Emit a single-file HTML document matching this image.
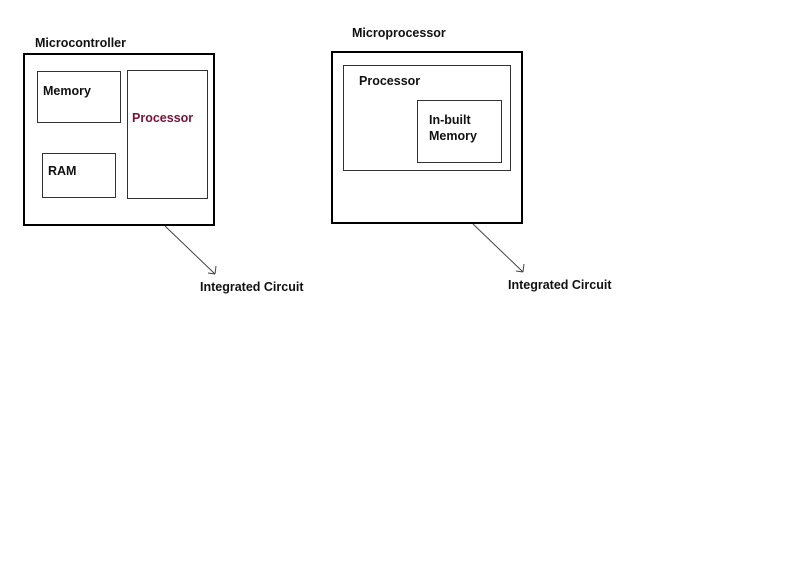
<!DOCTYPE html>
<html><head><meta charset="utf-8"><style>
html,body{margin:0;padding:0;background:#fff;}
svg{display:block;}
text{font-family:"Liberation Sans",Arial,sans-serif;font-weight:bold;font-size:12.5px;fill:#111;}
</style></head><body>
<svg width="800" height="561" viewBox="0 0 800 561" xmlns="http://www.w3.org/2000/svg">
<rect x="0" y="0" width="800" height="561" fill="#fff"/>
<!-- Left -->
<text x="35" y="47">Microcontroller</text>
<rect x="24" y="54" width="190" height="171" fill="none" stroke="#000" stroke-width="2"/>
<rect x="37.5" y="71.5" width="83" height="51" fill="none" stroke="#333" stroke-width="1"/>
<text x="43" y="95">Memory</text>
<rect x="42.5" y="153.5" width="73" height="44" fill="none" stroke="#333" stroke-width="1"/>
<text x="48" y="175">RAM</text>
<rect x="127.5" y="70.5" width="80" height="128" fill="none" stroke="#333" stroke-width="1"/>
<text x="132" y="122" style="fill:#7a1238">Processor</text>
<line x1="165" y1="226" x2="215" y2="274" stroke="#444" stroke-width="1"/>
<line x1="216" y1="266" x2="215" y2="274" stroke="#444" stroke-width="1"/>
<line x1="208" y1="273" x2="215" y2="274" stroke="#444" stroke-width="1"/>
<text x="200" y="291">Integrated Circuit</text>
<!-- Right -->
<text x="352" y="37">Microprocessor</text>
<rect x="332" y="52" width="190" height="171" fill="none" stroke="#000" stroke-width="2"/>
<rect x="343.5" y="65.5" width="167" height="105" fill="none" stroke="#333" stroke-width="1"/>
<text x="359" y="85">Processor</text>
<rect x="417.5" y="100.5" width="84" height="62" fill="none" stroke="#333" stroke-width="1"/>
<text x="429" y="124">In-built</text>
<text x="429" y="140">Memory</text>
<line x1="473" y1="224" x2="523" y2="272" stroke="#444" stroke-width="1"/>
<line x1="524" y1="264" x2="523" y2="272" stroke="#444" stroke-width="1"/>
<line x1="516" y1="271" x2="523" y2="272" stroke="#444" stroke-width="1"/>
<text x="508" y="289">Integrated Circuit</text>
</svg>
</body></html>
